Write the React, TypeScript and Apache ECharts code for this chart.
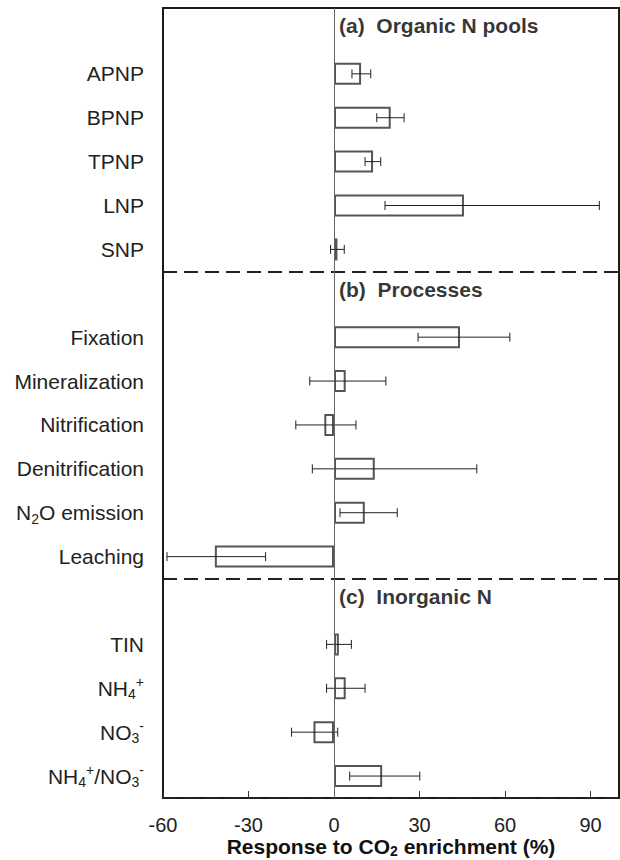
import React, { useEffect, useRef } from "react";
import * as echarts from "echarts";

const FONT = "'Liberation Sans', Arial, Helvetica, sans-serif";

// Category slots (top to bottom). "secA/secB/secC" hold the panel headings.
const categories = [
  "secA", "APNP", "BPNP", "TPNP", "LNP", "SNP",
  "secB", "Fixation", "Mineralization", "Nitrification", "Denitrification", "N2O emission", "Leaching",
  "secC", "TIN", "NH4+", "NO3-", "NH4+/NO3-",
];

// Axis labels (rich text for sub/superscripts)
const axisLabels = [
  "", "APNP", "BPNP", "TPNP", "LNP", "SNP",
  "", "Fixation", "Mineralization", "Nitrification", "Denitrification", "N{sub|2}O emission", "Leaching",
  "", "TIN", "NH{sub|4}{sup|+}", "NO{sub|3}{sup|-}", "NH{sub|4}{sup|+}/NO{sub|3}{sup|-}",
];

const sectionKeys = ["secA", "secB", "secC"];
const sectionTitles = ["(a)  Organic N pools", "(b)  Processes", "(c)  Inorganic N"];

// Mean response (%) and confidence interval bounds
const means = [null, 9.5, 19.9, 13.7, 45.6, 1.2, null, 44.2, 4.1, -3.4, 14.3, 10.8, -41.8, null, 1.7, 4.1, -7.2, 16.9];
const lower = [null, 6.3, 15.0, 10.9, 17.9, -1.2, null, 29.5, -8.5, -13.4, -7.6, 2.1, -58.6, null, -2.6, -2.6, -14.9, 5.5];
const upper = [null, 12.9, 24.6, 16.4, 93.1, 3.6, null, 61.7, 18.2, 7.7, 50.1, 22.2, -24.0, null, 6.1, 10.9, 1.3, 30.1];

const xMin = -60;
const xMax = 100;
const xInterval = 30;

export default function App() {
  const ref = useRef<HTMLDivElement>(null);

  useEffect(() => {
    if (!ref.current) return;
    const chart = echarts.init(ref.current, undefined, { renderer: "svg" });

    const errData: any[] = [];
    categories.forEach((c, i) => {
      if (lower[i] !== null && upper[i] !== null) errData.push([lower[i], upper[i], i]);
    });

    const option: any = {
      animation: false,
      textStyle: { fontFamily: FONT },
      grid: {
        left: 163,
        right: 1,
        top: 8,
        bottom: 62,
        show: true,
        borderColor: "#1a1a1a",
        borderWidth: 2,
        backgroundColor: "transparent",
        containLabel: false,
        outerBoundsMode: "none",
      },
      xAxis: {
        type: "value",
        min: xMin,
        max: xMax,
        interval: xInterval,
        axisLine: { show: false },
        axisTick: { show: true, inside: true, length: 7, lineStyle: { color: "#333", width: 1 } },
        axisLabel: { fontSize: 20, color: "#222", margin: 17, showMaxLabel: false, fontFamily: FONT },
        splitLine: { show: false },
        name: "Response to CO{sub|2} enrichment (%)",
        nameLocation: "middle",
        nameGap: 36,
        nameMoveOverlap: false,
        nameTextStyle: {
          fontSize: 21,
          fontWeight: "bold",
          color: "#111",
          fontFamily: FONT,
          lineHeight: 24,
          rich: {
            sub: { fontSize: 14, fontWeight: "bold", color: "#111", verticalAlign: "bottom", lineHeight: 24, fontFamily: FONT },
          },
        },
      },
      yAxis: {
        type: "category",
        inverse: true,
        data: categories,
        axisLine: { show: false },
        axisTick: { show: false },
        axisLabel: {
          fontSize: 21,
          color: "#222",
          margin: 19,
          fontFamily: FONT,
          lineHeight: 26,
          interval: 0,
          formatter: (_v: string, idx: number) => axisLabels[idx],
          rich: {
            sub: { fontSize: 14, color: "#222", verticalAlign: "bottom", lineHeight: 26, fontFamily: FONT },
            sup: { fontSize: 14, color: "#222", verticalAlign: "top", lineHeight: 26, fontFamily: FONT },
          },
        },
        splitLine: {
          show: true,
          interval: (i: number) => i === 6 || i === 13,
          lineStyle: { type: [14, 7], width: 2, color: "#222" },
        },
      },
      series: [
        {
          type: "bar",
          data: means,
          barWidth: 22,
          itemStyle: { color: "#fff", borderColor: "#555", borderWidth: 2 },
          markLine: {
            silent: true,
            symbol: ["none", "none"],
            label: { show: false },
            lineStyle: { color: "#666", width: 1, type: "solid" },
            data: [{ xAxis: 0 }],
          },
          z: 2,
        },
        {
          type: "custom",
          data: errData,
          encode: { x: [0, 1], y: 2 },
          z: 3,
          renderItem: (_params: any, api: any) => {
            const idx = api.value(2);
            const lo = api.coord([api.value(0), idx]);
            const hi = api.coord([api.value(1), idx]);
            const h = 4.5;
            const style = { stroke: "#222", lineWidth: 1 };
            return {
              type: "group",
              children: [
                { type: "line", shape: { x1: lo[0], y1: lo[1], x2: hi[0], y2: hi[1] }, style },
                { type: "line", shape: { x1: lo[0], y1: lo[1] - h, x2: lo[0], y2: lo[1] + h }, style },
                { type: "line", shape: { x1: hi[0], y1: hi[1] - h, x2: hi[0], y2: hi[1] + h }, style },
              ],
            };
          },
        },
        {
          type: "scatter",
          symbolSize: 0,
          z: 4,
          data: sectionKeys.map((k, i) => ({
            value: [0, k],
            label: { formatter: sectionTitles[i] },
          })),
          label: {
            show: true,
            position: "right",
            distance: 5,
            offset: [0, -4],
            fontSize: 21,
            fontWeight: "bold",
            color: "#000",
            fontFamily: FONT,
          },
        },
      ],
    };

    chart.setOption(option);
    return () => chart.dispose();
  }, []);

  return (
    <div
      ref={ref}
      style={{ position: "absolute", left: 0, top: 0, width: 620, height: 860, background: "#fff" }}
    />
  );
}
